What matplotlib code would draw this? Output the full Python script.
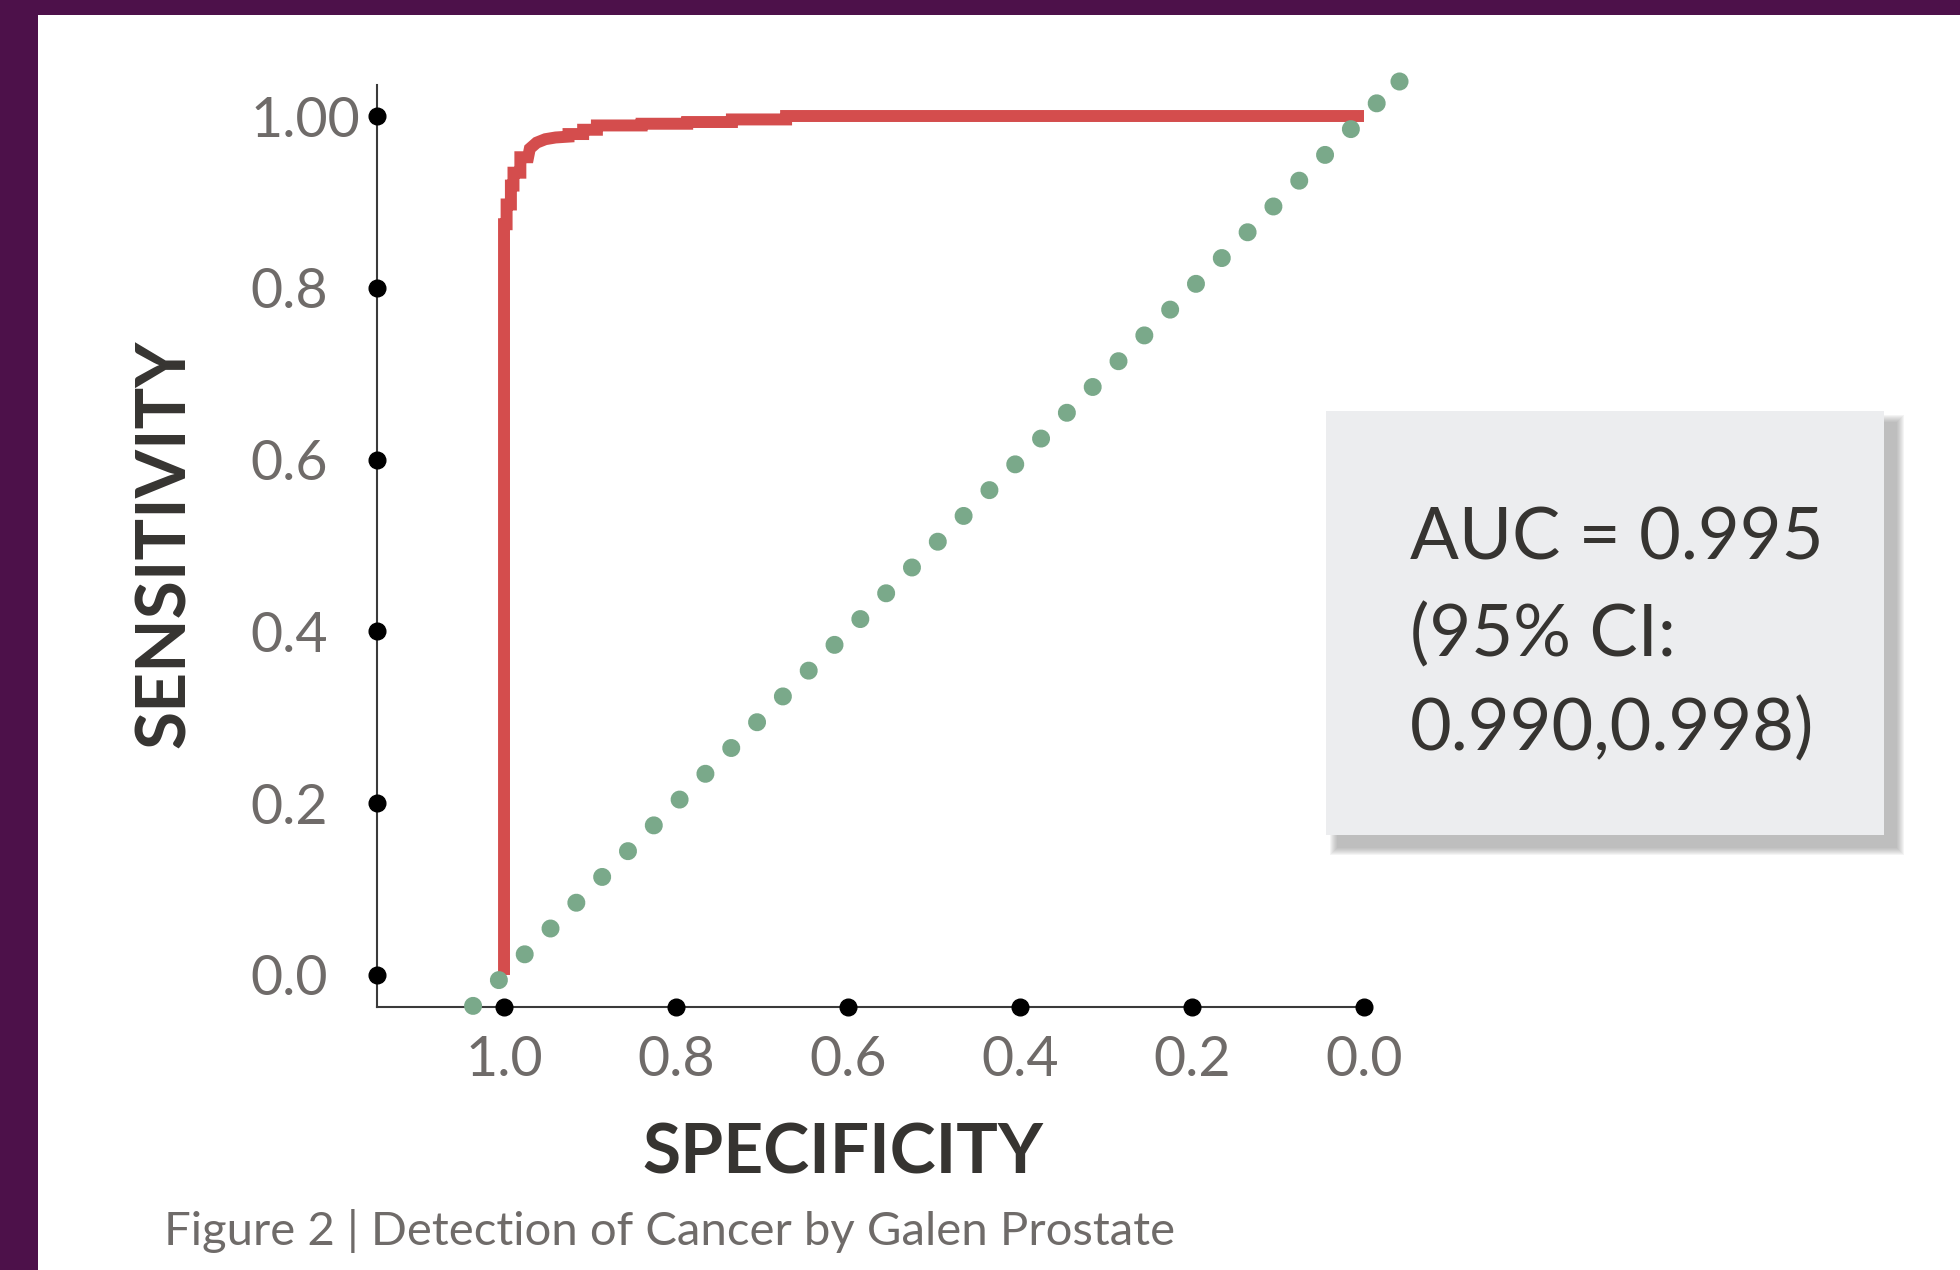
import matplotlib
matplotlib.use('Agg')
import matplotlib.pyplot as plt
from matplotlib.patches import Rectangle

W, H = 1960, 1270
DPI = 100

# ROC curve (specificity, sensitivity)
spec = [1.0, 1.0, 0.997, 0.997, 0.992, 0.992, 0.989, 0.989, 0.981, 0.981,
        0.972, 0.970, 0.962, 0.952, 0.940, 0.925, 0.925, 0.908, 0.908,
        0.892, 0.892, 0.840, 0.840, 0.787, 0.787, 0.735, 0.735, 0.672,
        0.672, 0.0]
sens = [0.0, 0.874, 0.874, 0.897, 0.897, 0.919, 0.919, 0.934, 0.934, 0.952,
        0.952, 0.962, 0.969, 0.973, 0.975, 0.976, 0.979, 0.979, 0.984,
        0.984, 0.989, 0.989, 0.991, 0.991, 0.993, 0.993, 0.996, 0.996,
        1.0, 1.0]

# chance diagonal end points
diag_x = [1.036, -0.041]
diag_y = [-0.036, 1.041]

x_ticks = [1.0, 0.8, 0.6, 0.4, 0.2, 0.0]
x_labels = ['1.0', '0.8', '0.6', '0.4', '0.2', '0.0']
y_ticks = [0.0, 0.2, 0.4, 0.6, 0.8, 1.0]
y_labels = ['0.0', '0.2', '0.4', '0.6', '0.8', '1.00']

auc_lines = ['AUC = 0.995', '(95% CI:', '0.990,0.998)']
caption = 'Figure 2 | Detection of Cancer by Galen Prostate'

PURPLE = '#4d114a'
RED = '#d44d4d'
GREEN = '#7aa98a'
GREY_TXT = '#6f6b69'
DARK_TXT = '#363431'

plt.rcParams['font.family'] = ['Lato', 'DejaVu Sans']


def fx(x):
    return x / W


def fy(y):
    return 1 - y / H


fig = plt.figure(figsize=(W / DPI, H / DPI), dpi=DPI)
fig.patch.set_facecolor('white')

# purple frame on the left and top
fig.add_artist(Rectangle((0, 0), fx(38), 1, transform=fig.transFigure,
                         color=PURPLE, lw=0))
fig.add_artist(Rectangle((0, fy(15)), 1, 15 / H, transform=fig.transFigure,
                         color=PURPLE, lw=0))

ax = fig.add_axes([fx(377), fy(1007), fx(1364 - 377), (1007 - 85) / H])
ax.set_xlim(1.1477, 0)
ax.set_ylim(-0.0373, 1.0361)
ax.patch.set_alpha(0)

ax.plot(spec, sens, color=RED, lw=8.6, solid_capstyle='butt',
        solid_joinstyle='miter', zorder=3)
# dotted diagonal, with the last (partial) dot at the far end as in R
ax.plot(diag_x, diag_y, color=GREEN, lw=13, linestyle=(0, (0.001, 2.02)),
        dash_capstyle='round', clip_on=False, zorder=4)
ax.plot(diag_x[-1:], diag_y[-1:], 'o', ms=13, color=GREEN, mew=0,
        clip_on=False, zorder=4)

for side in ['top', 'right']:
    ax.spines[side].set_visible(False)
for side in ['left', 'bottom']:
    ax.spines[side].set_color('#3a3a3a')
    ax.spines[side].set_linewidth(1.5)

# round tick dots sitting on the axis lines
x0, y0 = ax.get_xlim()[0], ax.get_ylim()[0]
ax.plot(x_ticks, [y0] * len(x_ticks), 'o', ms=12, color='black',
        clip_on=False, zorder=5)
ax.plot([x0] * len(y_ticks), y_ticks, 'o', ms=12, color='black',
        clip_on=False, zorder=5)

ax.set_xticks(x_ticks, x_labels)
ax.set_yticks(y_ticks, y_labels)
ax.tick_params(length=0, labelsize=40, labelcolor=GREY_TXT)
ax.tick_params(axis='x', pad=20)
ax.tick_params(axis='y', pad=91)
for lab in ax.get_yticklabels():
    lab.set_ha('left')

fig.text(fx(843), fy(1154), 'SPECIFICITY', ha='center', va='center',
         fontsize=50, fontweight='bold', color=DARK_TXT)
fig.text(fx(165), fy(544), 'SENSITIVITY', ha='center', va='center',
         rotation=90, fontsize=50, fontweight='bold', color=DARK_TXT)

fig.text(fx(164), fy(1245), caption, ha='left', va='baseline', fontsize=34,
         color=GREY_TXT)

# AUC box with a soft shadow
bx, by, bw, bh = 1326, 411, 558, 424
for i in range(8):
    grow = 8 - i
    fig.add_artist(Rectangle((fx(bx + 12 - grow), fy(by + bh + 12 + grow)),
                             (bw + 2 * grow) / W, (bh + 2 * grow) / H,
                             transform=fig.transFigure, color='#8a8a8a',
                             alpha=0.09, lw=0))
fig.add_artist(Rectangle((fx(bx), fy(by + bh)), bw / W, bh / H,
                         transform=fig.transFigure, color='#ecedef', lw=0))
for line, base in zip(auc_lines, [560, 656, 750]):
    fig.text(fx(1410), fy(base), line, ha='left', va='baseline', fontsize=52,
             color=DARK_TXT)

fig.savefig('out.png', dpi=DPI)
